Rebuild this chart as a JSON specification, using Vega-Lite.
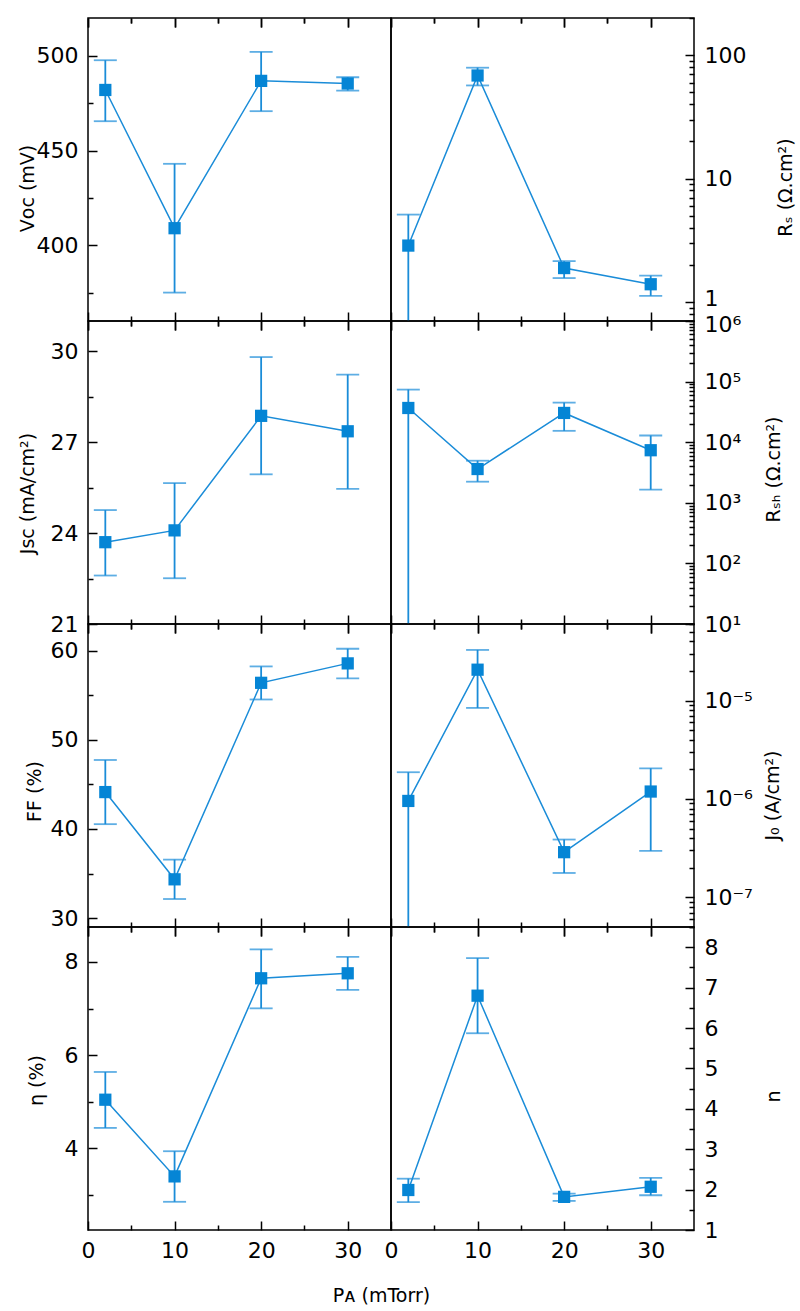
{
  "$schema": "https://vega.github.io/schema/vega-lite/v6.json",
  "padding": {"left": 17, "top": 6, "right": 5, "bottom": 5},
  "bounds": "flush",
  "spacing": 0,
  "columns": 2,
  "datasets": {
    "voc": [
      {"p": 2, "v": 482, "lo": 465.5, "hi": 497.7},
      {"p": 10, "v": 409, "lo": 375, "hi": 443},
      {"p": 20, "v": 486.8, "lo": 470.8, "hi": 502.1},
      {"p": 30, "v": 485.4, "lo": 481.7, "hi": 488.7}
    ],
    "rs": [
      {"p": 2, "v": 2.86, "lo": 0.4, "hi": 5.1},
      {"p": 10, "v": 68.4, "lo": 56.8, "hi": 79.1},
      {"p": 20, "v": 1.88, "lo": 1.56, "hi": 2.14},
      {"p": 30, "v": 1.39, "lo": 1.12, "hi": 1.63}
    ],
    "jsc": [
      {"p": 2, "v": 23.7, "lo": 22.6, "hi": 24.76},
      {"p": 10, "v": 24.09, "lo": 22.51, "hi": 25.65},
      {"p": 20, "v": 27.87, "lo": 25.94, "hi": 29.81},
      {"p": 30, "v": 27.36, "lo": 25.46, "hi": 29.23}
    ],
    "rsh": [
      {"p": 2, "v": 36700, "lo": 3, "hi": 73800},
      {"p": 10, "v": 3610, "lo": 2230, "hi": 4950},
      {"p": 20, "v": 30400, "lo": 15400, "hi": 45000},
      {"p": 30, "v": 7370, "lo": 1650, "hi": 12900}
    ],
    "ff": [
      {"p": 2, "v": 44.14, "lo": 40.54, "hi": 47.74},
      {"p": 10, "v": 34.35, "lo": 32.14, "hi": 36.56},
      {"p": 20, "v": 56.4, "lo": 54.53, "hi": 58.24},
      {"p": 30, "v": 58.58, "lo": 56.89, "hi": 60.22}
    ],
    "j0": [
      {"p": 2, "v": 9.55e-7, "lo": 2e-8, "hi": 1.87e-6},
      {"p": 10, "v": 2.06e-5, "lo": 8.42e-6, "hi": 3.27e-5},
      {"p": 20, "v": 2.88e-7, "lo": 1.77e-7, "hi": 3.87e-7},
      {"p": 30, "v": 1.19e-6, "lo": 2.97e-7, "hi": 2.05e-6}
    ],
    "eta": [
      {"p": 2, "v": 5.045, "lo": 4.44, "hi": 5.64},
      {"p": 10, "v": 3.4, "lo": 2.855, "hi": 3.94},
      {"p": 20, "v": 7.65, "lo": 7.005, "hi": 8.27},
      {"p": 30, "v": 7.757, "lo": 7.4, "hi": 8.107}
    ],
    "n": [
      {"p": 2, "v": 1.99, "lo": 1.69, "hi": 2.27},
      {"p": 10, "v": 6.8, "lo": 5.87, "hi": 7.73},
      {"p": 20, "v": 1.82, "lo": 1.72, "hi": 1.9},
      {"p": 30, "v": 2.07, "lo": 1.86, "hi": 2.29}
    ]
  },
  "concat": [
    {
      "width": 303, "height": 303,
      "data": {"name": "voc"},
      "encoding": {
        "y": {"field": "v", "type": "quantitative", "scale": {"domain": [360, 520], "nice": false, "zero": false},
              "axis": {"orient": "left", "values": [375, 400, 425, 450, 475, 500], "labelExpr": "datum.value % 50 === 0 ? datum.label : ''", "labelPadding": 19, "tickSize": {"condition": {"test": "datum.value % 50 === 0", "value": -9}, "value": -5}, "title": "Vᴏᴄ (mV)", "titleX": -51, "titleY": 170}}
      },
      "layer": [
        {"mark": {"type": "line", "color": "#1a8cd8", "strokeWidth": 1.5, "clip": true},
         "encoding": {
           "x": {"field": "p", "type": "quantitative", "scale": {"domain": [0, 35], "nice": false}, "axis": {"orient": "top", "values": [0, 5, 10, 15, 20, 25, 30], "labels": false, "title": null, "tickSize": {"condition": {"test": "datum.value % 10 === 0", "value": -9}, "value": -5}}}
         }},
        {"mark": {"type": "errorbar", "color": "#1a8cd8", "ticks": true, "size": 23, "thickness": 1.8, "clip": true},
         "encoding": {
           "x": {"field": "p", "type": "quantitative", "scale": {"domain": [0, 35], "nice": false}, "axis": {"orient": "bottom", "values": [0, 5, 10, 15, 20, 25, 30], "labels": false, "title": null, "tickSize": {"condition": {"test": "datum.value % 10 === 0", "value": -9}, "value": -5}}},
           "y": {"field": "lo", "type": "quantitative", "scale": {"domain": [360, 520], "nice": false, "zero": false}, "title": "Vᴏᴄ (mV)"},
           "y2": {"field": "hi"}
         }},
        {"mark": {"type": "square", "size": 150, "color": "#0585d5", "opacity": 1, "filled": true, "clip": true},
         "encoding": {
           "x": {"field": "p", "type": "quantitative", "scale": {"domain": [0, 35], "nice": false}, "axis": {"orient": "top", "values": [0, 5, 10, 15, 20, 25, 30], "labels": false, "title": null, "tickSize": {"condition": {"test": "datum.value % 10 === 0", "value": -9}, "value": -5}}}
         }}
      ],
      "resolve": {"axis": {"x": "independent"}}
    },
    {
      "width": 303, "height": 303,
      "data": {"name": "rs"},
      "encoding": {
        "y": {"field": "v", "type": "quantitative", "scale": {"type": "log", "domain": [0.7, 200], "nice": false},
              "axis": {"orient": "right", "values": [0.7, 0.8, 0.9, 1, 2, 3, 4, 5, 6, 7, 8, 9, 10, 20, 30, 40, 50, 60, 70, 80, 90, 100, 200], "labelExpr": "datum.value === 1 ? '1' : datum.value === 10 ? '10' : datum.value === 100 ? '100' : ''", "labelOffset": {"condition": {"test": "datum.value === 1", "value": -3}, "value": 0}, "labelPadding": 19, "tickSize": {"condition": {"test": "datum.value === 1 || datum.value === 10 || datum.value === 100", "value": -9}, "value": -5}, "title": "Rₛ (Ω.cm²)", "titleAngle": 270, "titleBaseline": "top", "titleX": 82, "titleY": 169}}
      },
      "layer": [
        {"mark": {"type": "line", "color": "#1a8cd8", "strokeWidth": 1.5, "clip": true},
         "encoding": {
           "x": {"field": "p", "type": "quantitative", "scale": {"domain": [0, 35], "nice": false}, "axis": {"orient": "top", "values": [0, 5, 10, 15, 20, 25, 30], "labels": false, "title": null, "tickSize": {"condition": {"test": "datum.value % 10 === 0", "value": -9}, "value": -5}}}
         }},
        {"mark": {"type": "errorbar", "color": "#1a8cd8", "ticks": true, "size": 23, "thickness": 1.8, "clip": true},
         "encoding": {
           "x": {"field": "p", "type": "quantitative", "scale": {"domain": [0, 35], "nice": false}, "axis": {"orient": "bottom", "values": [0, 5, 10, 15, 20, 25, 30], "labels": false, "title": null, "tickSize": {"condition": {"test": "datum.value % 10 === 0", "value": -9}, "value": -5}}},
           "y": {"field": "lo", "type": "quantitative", "scale": {"type": "log", "domain": [0.7, 200], "nice": false}, "title": "Rₛ (Ω.cm²)"},
           "y2": {"field": "hi"}
         }},
        {"mark": {"type": "square", "size": 150, "color": "#0585d5", "opacity": 1, "filled": true, "clip": true},
         "encoding": {
           "x": {"field": "p", "type": "quantitative", "scale": {"domain": [0, 35], "nice": false}, "axis": {"orient": "top", "values": [0, 5, 10, 15, 20, 25, 30], "labels": false, "title": null, "tickSize": {"condition": {"test": "datum.value % 10 === 0", "value": -9}, "value": -5}}}
         }}
      ],
      "resolve": {"axis": {"x": "independent"}}
    },
    {
      "width": 303, "height": 303,
      "data": {"name": "jsc"},
      "encoding": {
        "y": {"field": "v", "type": "quantitative", "scale": {"domain": [21, 31], "nice": false, "zero": false},
              "axis": {"orient": "left", "values": [21, 22.5, 24, 25.5, 27, 28.5, 30], "labelExpr": "(datum.value - 21) % 3 === 0 ? datum.label : ''", "labelPadding": 19, "tickSize": {"condition": {"test": "(datum.value - 21) % 3 === 0", "value": -9}, "value": -5}, "title": "Jꜱᴄ (mA/cm²)", "titleX": -51, "titleY": 172}}
      },
      "layer": [
        {"mark": {"type": "line", "color": "#1a8cd8", "strokeWidth": 1.5, "clip": true},
         "encoding": {
           "x": {"field": "p", "type": "quantitative", "scale": {"domain": [0, 35], "nice": false}, "axis": {"orient": "top", "values": [0, 5, 10, 15, 20, 25, 30], "labels": false, "title": null, "tickSize": {"condition": {"test": "datum.value % 10 === 0", "value": -9}, "value": -5}}}
         }},
        {"mark": {"type": "errorbar", "color": "#1a8cd8", "ticks": true, "size": 23, "thickness": 1.8, "clip": true},
         "encoding": {
           "x": {"field": "p", "type": "quantitative", "scale": {"domain": [0, 35], "nice": false}, "axis": {"orient": "bottom", "values": [0, 5, 10, 15, 20, 25, 30], "labels": false, "title": null, "tickSize": {"condition": {"test": "datum.value % 10 === 0", "value": -9}, "value": -5}}},
           "y": {"field": "lo", "type": "quantitative", "scale": {"domain": [21, 31], "nice": false, "zero": false}, "title": "Jꜱᴄ (mA/cm²)"},
           "y2": {"field": "hi"}
         }},
        {"mark": {"type": "square", "size": 150, "color": "#0585d5", "opacity": 1, "filled": true, "clip": true},
         "encoding": {
           "x": {"field": "p", "type": "quantitative", "scale": {"domain": [0, 35], "nice": false}, "axis": {"orient": "top", "values": [0, 5, 10, 15, 20, 25, 30], "labels": false, "title": null, "tickSize": {"condition": {"test": "datum.value % 10 === 0", "value": -9}, "value": -5}}}
         }}
      ],
      "resolve": {"axis": {"x": "independent"}}
    },
    {
      "width": 303, "height": 303,
      "data": {"name": "rsh"},
      "encoding": {
        "y": {"field": "v", "type": "quantitative", "scale": {"type": "log", "domain": [10, 1000000], "nice": false},
              "axis": {"orient": "right", "values": [10, 20, 30, 40, 50, 60, 70, 80, 90, 100, 200, 300, 400, 500, 600, 700, 800, 900, 1000, 2000, 3000, 4000, 5000, 6000, 7000, 8000, 9000, 10000, 20000, 30000, 40000, 50000, 60000, 70000, 80000, 90000, 100000, 200000, 300000, 400000, 500000, 600000, 700000, 800000, 900000, 1000000], "labelExpr": "datum.value === 10 ? '10¹' : datum.value === 100 ? '10²' : datum.value === 1000 ? '10³' : datum.value === 10000 ? '10⁴' : datum.value === 100000 ? '10⁵' : datum.value === 1000000 ? '10⁶' : ''", "labelOffset": {"condition": {"test": "datum.value === 1000000", "value": 3}, "value": 0}, "labelPadding": 19, "tickSize": {"condition": {"test": "indexof([10, 100, 1000, 10000, 100000, 1000000], datum.value) >= 0", "value": -9}, "value": -5}, "title": "Rₛₕ (Ω.cm²)", "titleAngle": 270, "titleBaseline": "top", "titleX": 70, "titleY": 148}}
      },
      "layer": [
        {"mark": {"type": "line", "color": "#1a8cd8", "strokeWidth": 1.5, "clip": true},
         "encoding": {
           "x": {"field": "p", "type": "quantitative", "scale": {"domain": [0, 35], "nice": false}, "axis": {"orient": "top", "values": [0, 5, 10, 15, 20, 25, 30], "labels": false, "title": null, "tickSize": {"condition": {"test": "datum.value % 10 === 0", "value": -9}, "value": -5}}}
         }},
        {"mark": {"type": "errorbar", "color": "#1a8cd8", "ticks": true, "size": 23, "thickness": 1.8, "clip": true},
         "encoding": {
           "x": {"field": "p", "type": "quantitative", "scale": {"domain": [0, 35], "nice": false}, "axis": {"orient": "bottom", "values": [0, 5, 10, 15, 20, 25, 30], "labels": false, "title": null, "tickSize": {"condition": {"test": "datum.value % 10 === 0", "value": -9}, "value": -5}}},
           "y": {"field": "lo", "type": "quantitative", "scale": {"type": "log", "domain": [10, 1000000], "nice": false}, "title": "Rₛₕ (Ω.cm²)"},
           "y2": {"field": "hi"}
         }},
        {"mark": {"type": "square", "size": 150, "color": "#0585d5", "opacity": 1, "filled": true, "clip": true},
         "encoding": {
           "x": {"field": "p", "type": "quantitative", "scale": {"domain": [0, 35], "nice": false}, "axis": {"orient": "top", "values": [0, 5, 10, 15, 20, 25, 30], "labels": false, "title": null, "tickSize": {"condition": {"test": "datum.value % 10 === 0", "value": -9}, "value": -5}}}
         }}
      ],
      "resolve": {"axis": {"x": "independent"}}
    },
    {
      "width": 303, "height": 303,
      "data": {"name": "ff"},
      "encoding": {
        "y": {"field": "v", "type": "quantitative", "scale": {"domain": [29, 63], "nice": false, "zero": false},
              "axis": {"orient": "left", "values": [30, 35, 40, 45, 50, 55, 60], "labelExpr": "datum.value % 10 === 0 ? datum.label : ''", "labelPadding": 19, "tickSize": {"condition": {"test": "datum.value % 10 === 0", "value": -9}, "value": -5}, "title": "FF (%)", "titleX": -44, "titleY": 167}}
      },
      "layer": [
        {"mark": {"type": "line", "color": "#1a8cd8", "strokeWidth": 1.5, "clip": true},
         "encoding": {
           "x": {"field": "p", "type": "quantitative", "scale": {"domain": [0, 35], "nice": false}, "axis": {"orient": "top", "values": [0, 5, 10, 15, 20, 25, 30], "labels": false, "title": null, "tickSize": {"condition": {"test": "datum.value % 10 === 0", "value": -9}, "value": -5}}}
         }},
        {"mark": {"type": "errorbar", "color": "#1a8cd8", "ticks": true, "size": 23, "thickness": 1.8, "clip": true},
         "encoding": {
           "x": {"field": "p", "type": "quantitative", "scale": {"domain": [0, 35], "nice": false}, "axis": {"orient": "bottom", "values": [0, 5, 10, 15, 20, 25, 30], "labels": false, "title": null, "tickSize": {"condition": {"test": "datum.value % 10 === 0", "value": -9}, "value": -5}}},
           "y": {"field": "lo", "type": "quantitative", "scale": {"domain": [29, 63], "nice": false, "zero": false}, "title": "FF (%)"},
           "y2": {"field": "hi"}
         }},
        {"mark": {"type": "square", "size": 150, "color": "#0585d5", "opacity": 1, "filled": true, "clip": true},
         "encoding": {
           "x": {"field": "p", "type": "quantitative", "scale": {"domain": [0, 35], "nice": false}, "axis": {"orient": "top", "values": [0, 5, 10, 15, 20, 25, 30], "labels": false, "title": null, "tickSize": {"condition": {"test": "datum.value % 10 === 0", "value": -9}, "value": -5}}}
         }}
      ],
      "resolve": {"axis": {"x": "independent"}}
    },
    {
      "width": 303, "height": 303,
      "data": {"name": "j0"},
      "encoding": {
        "y": {"field": "v", "type": "quantitative", "scale": {"type": "log", "domain": [5e-8, 6e-5], "nice": false},
              "axis": {"orient": "right", "values": [5e-8, 6e-8, 7e-8, 8e-8, 9e-8, 1e-7, 2e-7, 3e-7, 4e-7, 5e-7, 6e-7, 7e-7, 8e-7, 9e-7, 1e-6, 2e-6, 3e-6, 4e-6, 5e-6, 6e-6, 7e-6, 8e-6, 9e-6, 1e-5, 2e-5, 3e-5, 4e-5, 5e-5, 6e-5], "labelExpr": "abs(log(datum.value)/LN10 - round(log(datum.value)/LN10)) < 0.001 ? (round(log(datum.value)/LN10) === -7 ? '10⁻⁷' : round(log(datum.value)/LN10) === -6 ? '10⁻⁶' : '10⁻⁵') : ''", "labelPadding": 19, "tickSize": {"condition": {"test": "abs(log(datum.value)/LN10 - round(log(datum.value)/LN10)) < 0.001", "value": -9}, "value": -5}, "title": "J₀ (A/cm²)", "titleAngle": 270, "titleBaseline": "top", "titleX": 69, "titleY": 171}}
      },
      "layer": [
        {"mark": {"type": "line", "color": "#1a8cd8", "strokeWidth": 1.5, "clip": true},
         "encoding": {
           "x": {"field": "p", "type": "quantitative", "scale": {"domain": [0, 35], "nice": false}, "axis": {"orient": "top", "values": [0, 5, 10, 15, 20, 25, 30], "labels": false, "title": null, "tickSize": {"condition": {"test": "datum.value % 10 === 0", "value": -9}, "value": -5}}}
         }},
        {"mark": {"type": "errorbar", "color": "#1a8cd8", "ticks": true, "size": 23, "thickness": 1.8, "clip": true},
         "encoding": {
           "x": {"field": "p", "type": "quantitative", "scale": {"domain": [0, 35], "nice": false}, "axis": {"orient": "bottom", "values": [0, 5, 10, 15, 20, 25, 30], "labels": false, "title": null, "tickSize": {"condition": {"test": "datum.value % 10 === 0", "value": -9}, "value": -5}}},
           "y": {"field": "lo", "type": "quantitative", "scale": {"type": "log", "domain": [5e-8, 6e-5], "nice": false}, "title": "J₀ (A/cm²)"},
           "y2": {"field": "hi"}
         }},
        {"mark": {"type": "square", "size": 150, "color": "#0585d5", "opacity": 1, "filled": true, "clip": true},
         "encoding": {
           "x": {"field": "p", "type": "quantitative", "scale": {"domain": [0, 35], "nice": false}, "axis": {"orient": "top", "values": [0, 5, 10, 15, 20, 25, 30], "labels": false, "title": null, "tickSize": {"condition": {"test": "datum.value % 10 === 0", "value": -9}, "value": -5}}}
         }}
      ],
      "resolve": {"axis": {"x": "independent"}}
    },
    {
      "width": 303, "height": 303,
      "data": {"name": "eta"},
      "encoding": {
        "y": {"field": "v", "type": "quantitative", "scale": {"domain": [2.25, 8.75], "nice": false, "zero": false},
              "axis": {"orient": "left", "values": [3, 4, 5, 6, 7, 8], "labelExpr": "datum.value % 2 === 0 ? datum.label : ''", "labelPadding": 19, "tickSize": {"condition": {"test": "datum.value % 2 === 0", "value": -9}, "value": -5}, "title": "η (%)", "titleX": -42, "titleY": 153}}
      },
      "layer": [
        {"mark": {"type": "line", "color": "#1a8cd8", "strokeWidth": 1.5, "clip": true},
         "encoding": {
           "x": {"field": "p", "type": "quantitative", "scale": {"domain": [0, 35], "nice": false}, "axis": {"orient": "top", "values": [0, 5, 10, 15, 20, 25, 30], "labels": false, "title": null, "tickSize": {"condition": {"test": "datum.value % 10 === 0", "value": -9}, "value": -5}}}
         }},
        {"mark": {"type": "errorbar", "color": "#1a8cd8", "ticks": true, "size": 23, "thickness": 1.8, "clip": true},
         "encoding": {
           "x": {"field": "p", "type": "quantitative", "scale": {"domain": [0, 35], "nice": false}, "axis": {"orient": "bottom", "values": [0, 5, 10, 15, 20, 25, 30], "labelExpr": "datum.value % 10 === 0 ? datum.label : ''", "labelPadding": 19, "title": "Pᴀ (mTorr)", "titleX": 293, "titleY": 65, "titleBaseline": "middle", "tickSize": {"condition": {"test": "datum.value % 10 === 0", "value": -9}, "value": -5}}},
           "y": {"field": "lo", "type": "quantitative", "scale": {"domain": [2.25, 8.75], "nice": false, "zero": false}, "title": "η (%)"},
           "y2": {"field": "hi"}
         }},
        {"mark": {"type": "square", "size": 150, "color": "#0585d5", "opacity": 1, "filled": true, "clip": true},
         "encoding": {
           "x": {"field": "p", "type": "quantitative", "scale": {"domain": [0, 35], "nice": false}, "axis": {"orient": "top", "values": [0, 5, 10, 15, 20, 25, 30], "labels": false, "title": null, "tickSize": {"condition": {"test": "datum.value % 10 === 0", "value": -9}, "value": -5}}}
         }}
      ],
      "resolve": {"axis": {"x": "independent"}}
    },
    {
      "width": 303, "height": 303,
      "data": {"name": "n"},
      "encoding": {
        "y": {"field": "v", "type": "quantitative", "scale": {"domain": [1, 8.5], "nice": false, "zero": false},
              "axis": {"orient": "right", "values": [1, 1.5, 2, 2.5, 3, 3.5, 4, 4.5, 5, 5.5, 6, 6.5, 7, 7.5, 8, 8.5], "labelExpr": "datum.value % 1 === 0 ? '' + datum.value : ''", "labelPadding": 19, "tickSize": {"condition": {"test": "datum.value % 1 === 0", "value": -9}, "value": -5}, "title": "n", "titleAngle": 270, "titleBaseline": "top", "titleX": 70, "titleY": 169}}
      },
      "layer": [
        {"mark": {"type": "line", "color": "#1a8cd8", "strokeWidth": 1.5, "clip": true},
         "encoding": {
           "x": {"field": "p", "type": "quantitative", "scale": {"domain": [0, 35], "nice": false}, "axis": {"orient": "top", "values": [0, 5, 10, 15, 20, 25, 30], "labels": false, "title": null, "tickSize": {"condition": {"test": "datum.value % 10 === 0", "value": -9}, "value": -5}}}
         }},
        {"mark": {"type": "errorbar", "color": "#1a8cd8", "ticks": true, "size": 23, "thickness": 1.8, "clip": true},
         "encoding": {
           "x": {"field": "p", "type": "quantitative", "scale": {"domain": [0, 35], "nice": false}, "axis": {"orient": "bottom", "values": [0, 5, 10, 15, 20, 25, 30], "labelExpr": "datum.value % 10 === 0 ? datum.label : ''", "labelPadding": 19, "title": null, "tickSize": {"condition": {"test": "datum.value % 10 === 0", "value": -9}, "value": -5}}},
           "y": {"field": "lo", "type": "quantitative", "scale": {"domain": [1, 8.5], "nice": false, "zero": false}, "title": "n"},
           "y2": {"field": "hi"}
         }},
        {"mark": {"type": "square", "size": 150, "color": "#0585d5", "opacity": 1, "filled": true, "clip": true},
         "encoding": {
           "x": {"field": "p", "type": "quantitative", "scale": {"domain": [0, 35], "nice": false}, "axis": {"orient": "top", "values": [0, 5, 10, 15, 20, 25, 30], "labels": false, "title": null, "tickSize": {"condition": {"test": "datum.value % 10 === 0", "value": -9}, "value": -5}}}
         }}
      ],
      "resolve": {"axis": {"x": "independent"}}
    }
  ],
  "config": {
    "view": {"stroke": "#000", "strokeWidth": 1.5},
    "axis": {"domain": false, "grid": false, "labelFont": "DejaVu Sans", "labelFontSize": 22, "labelColor": "#000", "titleFont": "DejaVu Sans", "titleFontSize": 19, "titleFontWeight": "normal", "titleColor": "#000", "tickColor": "#000", "tickWidth": 1.5, "labelFlush": false, "labelOverlap": false}
  }
}
